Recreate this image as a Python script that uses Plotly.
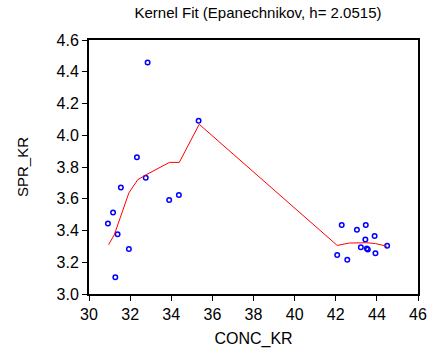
import plotly.graph_objects as go

# Observed data (CONC_KR vs SPR_KR)
conc_kr = [32.85, 35.33, 32.33, 31.55, 32.76, 33.90, 34.37, 31.17, 30.92, 31.39,
           31.94, 31.28, 42.29, 43.46, 43.03, 43.89, 43.44, 43.22, 43.51, 43.56,
           44.50, 43.93, 42.07, 42.56]
spr_kr = [4.458, 4.091, 3.862, 3.671, 3.732, 3.592, 3.623, 3.513, 3.444, 3.376,
          3.284, 3.105, 3.434, 3.434, 3.404, 3.365, 3.343, 3.294, 3.286, 3.280,
          3.304, 3.256, 3.245, 3.215]

# Kernel fit curve
fit_x = [30.95, 31.23, 31.94, 32.37, 32.81, 33.91, 34.39, 35.36,
         42.07, 42.67, 43.46, 43.93, 44.50]
fit_y = [3.310, 3.373, 3.637, 3.720, 3.753, 3.829, 3.829, 4.069,
         3.306, 3.321, 3.323, 3.318, 3.300]

x_ticks = [30, 32, 34, 36, 38, 40, 42, 44, 46]
y_ticks = [3.0, 3.2, 3.4, 3.6, 3.8, 4.0, 4.2, 4.4, 4.6]

FONT = "Liberation Sans, Arial, sans-serif"

fig = go.Figure()
fig.add_trace(go.Scatter(
    x=conc_kr, y=spr_kr, mode="markers",
    marker=dict(symbol="circle-open", size=4.5, color="#0000ff",
                line=dict(width=1.5, color="#0000ff")),
    showlegend=False, cliponaxis=False))
fig.add_trace(go.Scatter(
    x=fit_x, y=fit_y, mode="lines",
    line=dict(color="#ff0000", width=1),
    showlegend=False))

fig.update_layout(
    width=438, height=356,
    margin=dict(l=89, r=11, t=40, b=53),
    paper_bgcolor="white", plot_bgcolor="white",
    font=dict(family=FONT, color="black", size=15),
    title=dict(text="Kernel Fit (Epanechnikov, h= 2.0515)",
               x=(89 + 427) / 2 / 438, xanchor="center",
               y=1 - 13 / 356, yanchor="middle", yref="container",
               font=dict(family=FONT, size=15, color="black")),
)
fig.update_xaxes(
    range=[30, 46], tickvals=x_ticks, ticktext=[str(v) for v in x_ticks],
    showgrid=False, zeroline=False,
    showline=True, linecolor="black", linewidth=2, mirror=True,
    ticks="outside", ticklen=5, tickwidth=1, tickcolor="black",
    tickfont=dict(size=16),
    title=dict(text="CONC_KR", font=dict(size=16), standoff=11),
)
fig.update_yaxes(
    range=[3.0, 4.6], tickvals=y_ticks, ticktext=[f"{v:.1f}" for v in y_ticks],
    showgrid=False, zeroline=False,
    showline=True, linecolor="black", linewidth=2, mirror=True,
    ticks="outside", ticklen=5, tickwidth=1, tickcolor="black",
    tickfont=dict(size=16),
    title=dict(text="SPR_KR", font=dict(size=15), standoff=24),
)

fig.write_html("out.html")
